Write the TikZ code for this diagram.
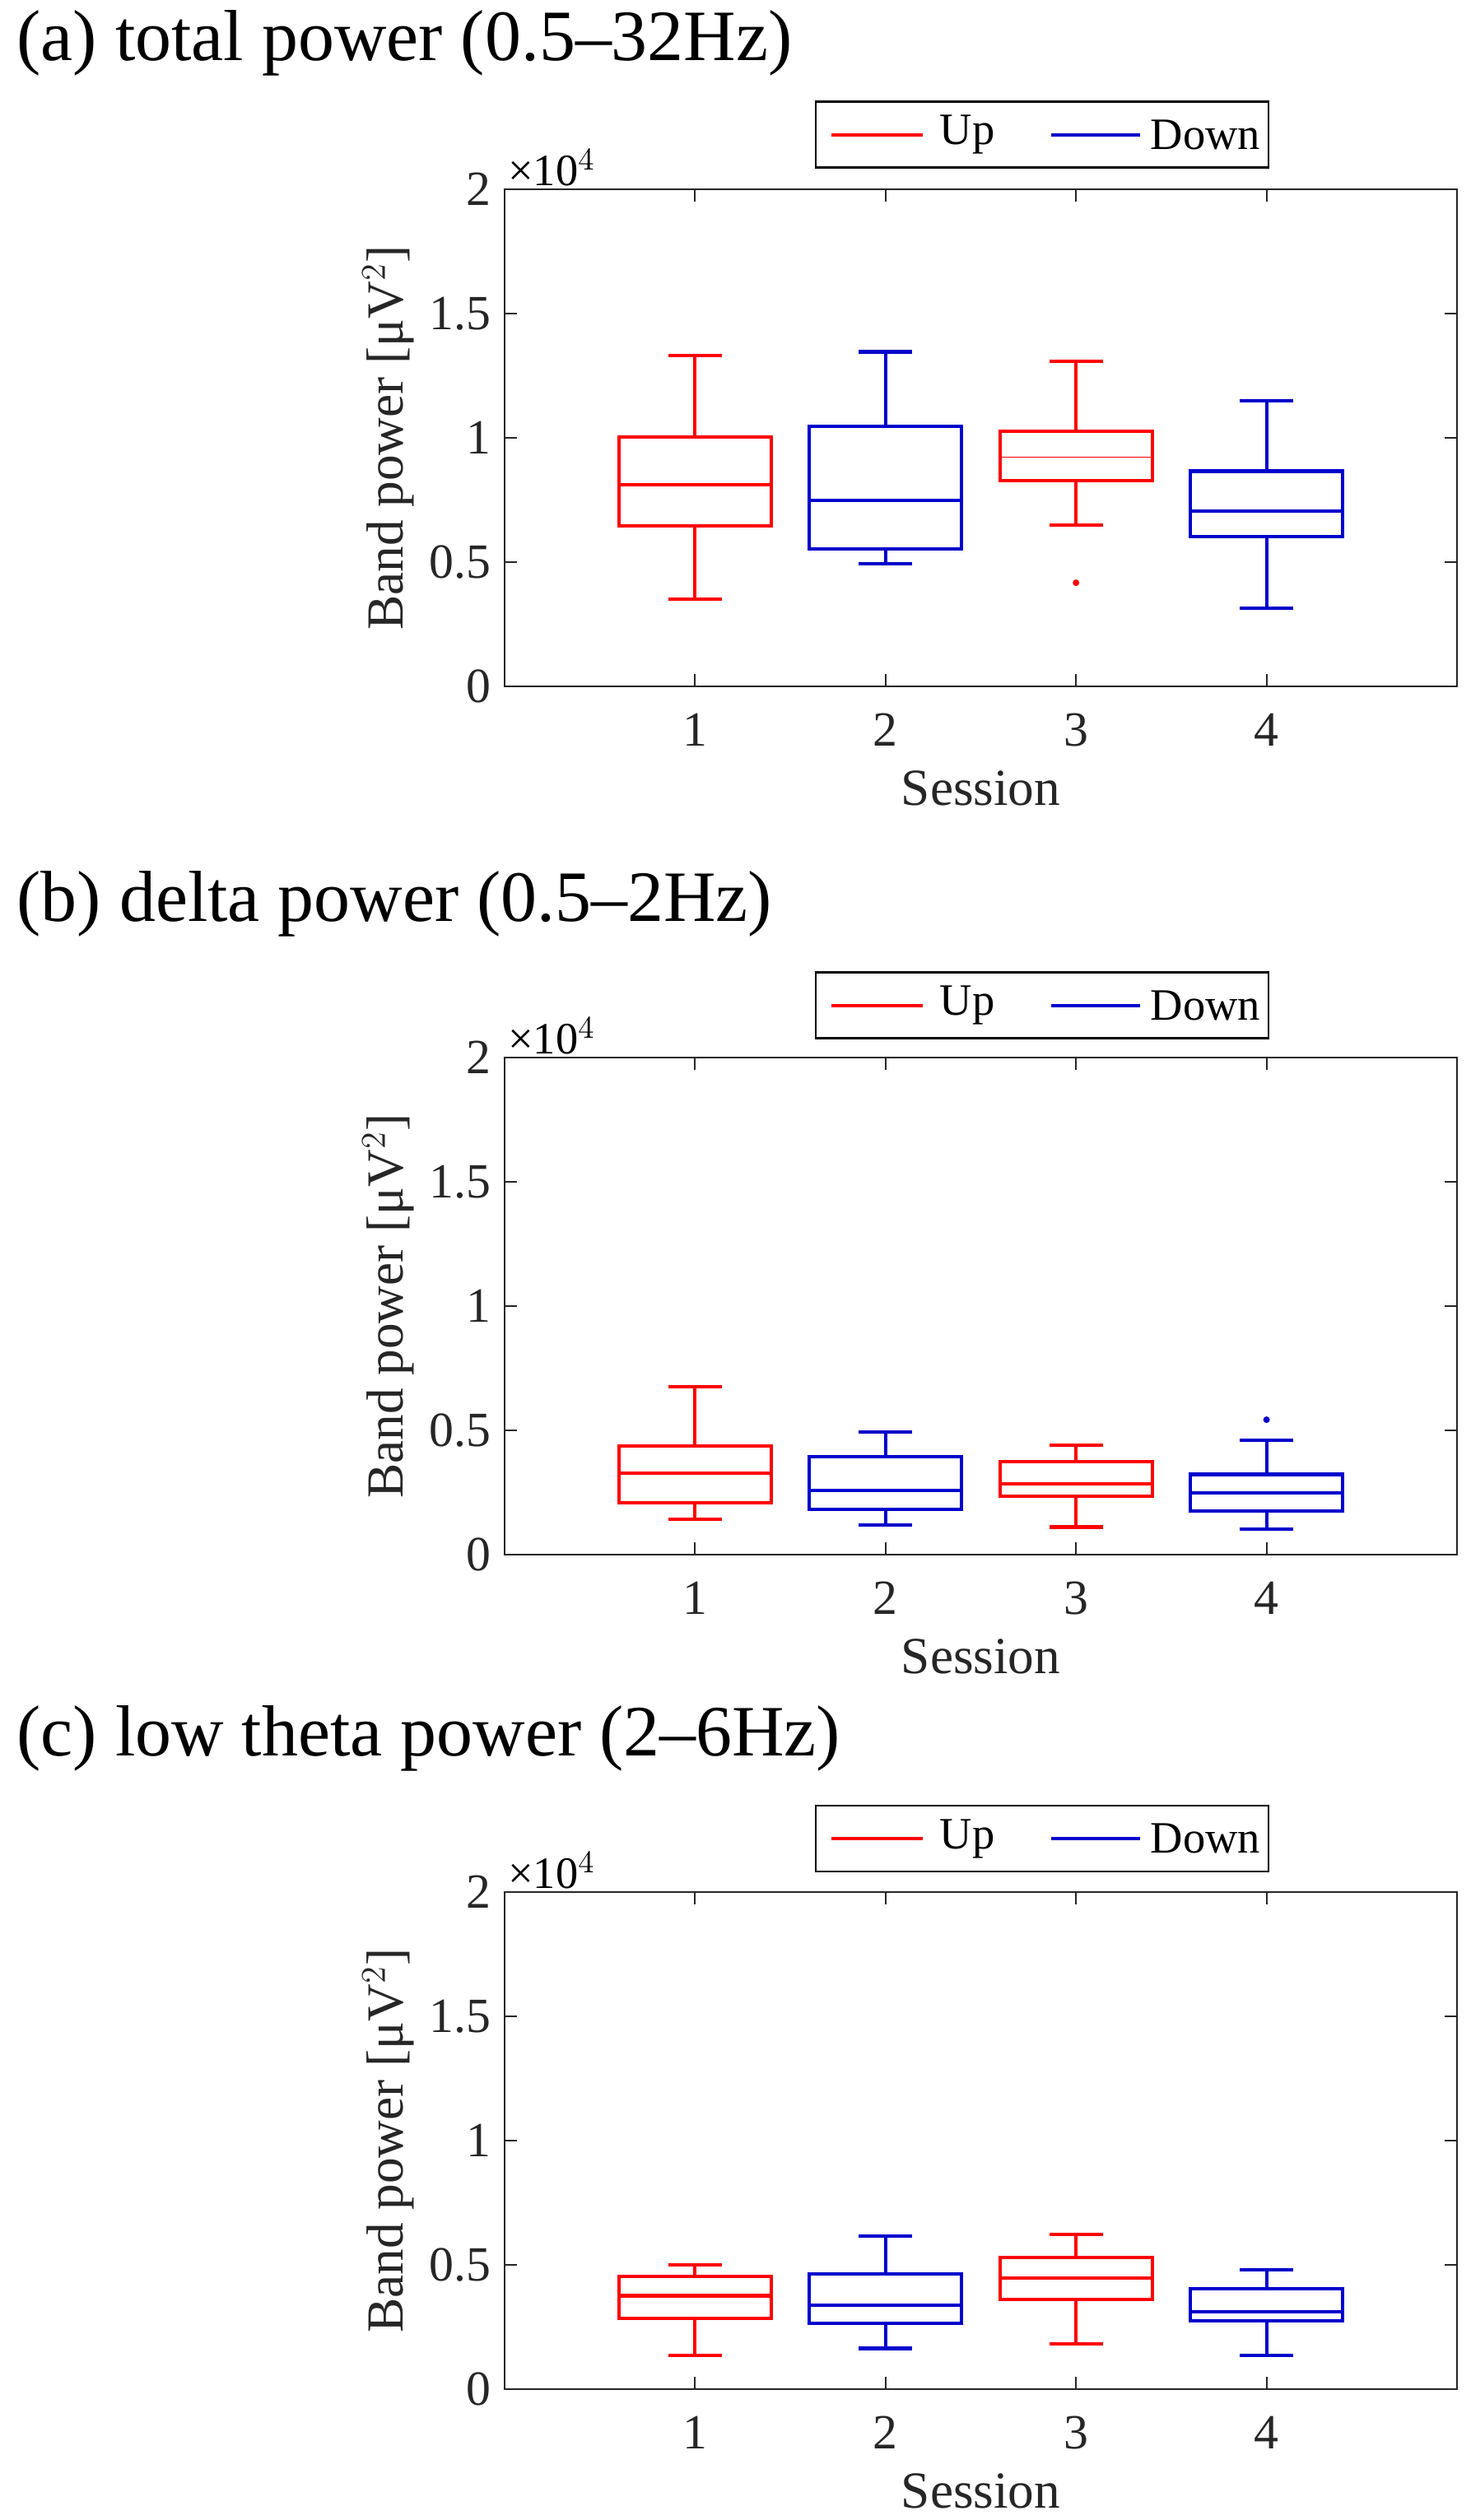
\documentclass[tikz,border=0pt]{standalone}
\usepackage{fontspec}
\setmainfont{Liberation Serif}
\definecolor{mred}{rgb}{1,0,0}
\definecolor{mblue}{rgb}{0,0,0.8}
\definecolor{axc}{rgb}{0.15,0.15,0.15}
\tikzset{
  ax/.style={draw=axc,line width=0.6pt},
  bx/.style={line width=1.15pt},
  tick/.style={font=\fontsize{17}{20}\selectfont,text=axc},
  legt/.style={font=\fontsize{15.5}{19}\selectfont,text=black},
  ttl/.style={font=\fontsize{25}{30}\selectfont,anchor=west,inner sep=0pt},
  lab/.style={font=\fontsize{18}{22}\selectfont,text=axc},
}
% \bpl{pos}{lo}{q1}{med}{q3}{hi}{color}{medwidth}
\newcommand{\bpl}[8]{%
  \draw[bx,#7] (#1,#2) -- (#1,#3) (#1,#5) -- (#1,#6)
    (#1-0.14,#2) -- (#1+0.14,#2) (#1-0.14,#6) -- (#1+0.14,#6);
  \draw[bx,#7] (#1-0.4,#3) rectangle (#1+0.4,#5);
  \draw[#7,line width=#8] (#1-0.4,#4) -- (#1+0.4,#4);
}
\newcommand{\panel}[2]{% #1 name prefix, #2 legend y offset
  \draw[ax] (0,0) rectangle (5,2);
  \foreach \i in {1,2,3,4}{
    \draw[ax] (\i,0) -- ++(0,0.05) (\i,2) -- ++(0,-0.05);
    \node[tick] (#1xt\i) at (\i,-0.175) {\i};
  }
  \foreach \v/\t [count=\k] in {0/0,0.5/0.5,1/1,1.5/1.5,2/2}{
    \draw[ax] (0,\v) -- ++(0.065,0) (5,\v) -- ++(-0.065,0);
    \node[tick,anchor=east] (#1yt\k) at (-0.02,\v) {\t};
  }
  \node[legt,anchor=south west,inner sep=1pt] (#1exp) at (0,2.0) {×10$^4$};
  \node[lab] (#1xl) at (2.5,-0.41) {Session};
  \node[lab,rotate=90] (#1yl) at (-0.61,1) {Band power [μV$^2$]};
  \node[draw=black,line width=0.7pt,minimum width=5.5cm,minimum height=0.8cm,inner sep=0pt] (#1leg) at (2.823,#2) {};
  \coordinate (#1r1) at ([xshift=0.2cm]#1leg.west);
  \coordinate (#1r2) at ([xshift=1.31cm]#1leg.west);
  \coordinate (#1b1) at ([xshift=2.87cm]#1leg.west);
  \coordinate (#1b2) at ([xshift=3.95cm]#1leg.west);
  \draw[mred,bx] (#1r1) -- (#1r2);
  \draw[mblue,bx] (#1b1) -- (#1b2);
  \node[legt,anchor=west,inner sep=0pt] (#1up) at ([xshift=0.2cm]#1r2) {Up};
  \node[legt,anchor=west,inner sep=0pt] (#1dn) at ([xshift=0.12cm]#1b2) {Down};
}
\begin{document}
\begin{tikzpicture}
\useasboundingbox (0,0) rectangle (17.86,-30.62);
\node[ttl] (ta) at (0.2,-0.52) {(a) total power (0.5–32Hz)};
\node[ttl] (tb) at (0.2,-10.98) {(b) delta power (0.5–2Hz)};
\node[ttl] (tc) at (0.2,-21.12) {(c) low theta power (2–6Hz)};
\begin{scope}[shift={(6.13,-8.34)},x=2.314cm,y=3.02cm]
  \panel{a}{2.22}
  \bpl{1}{0.351}{0.646}{0.810}{1.003}{1.331}{mred}{1.15pt}
  \bpl{2}{0.492}{0.553}{0.748}{1.045}{1.346}{mblue}{1.15pt}
  \bpl{3}{0.648}{0.829}{0.922}{1.026}{1.308}{mred}{0.4pt}
  \bpl{4}{0.314}{0.602}{0.704}{0.866}{1.148}{mblue}{1.15pt}
  \fill[mred] (3,0.417) circle (0.04cm);
\end{scope}
\begin{scope}[shift={(6.13,-18.89)},x=2.314cm,y=3.02cm]
  \panel{b}{2.21}
  \bpl{1}{0.141}{0.210}{0.328}{0.437}{0.677}{mred}{1.15pt}
  \bpl{2}{0.118}{0.182}{0.258}{0.395}{0.494}{mblue}{1.15pt}
  \bpl{3}{0.111}{0.234}{0.284}{0.375}{0.439}{mred}{1.15pt}
  \bpl{4}{0.102}{0.177}{0.248}{0.323}{0.459}{mblue}{1.15pt}
  \fill[mblue] (4,0.543) circle (0.04cm);
\end{scope}
\begin{scope}[shift={(6.13,-29.03)},x=2.314cm,y=3.02cm]
  \panel{c}{2.215}
  \bpl{1}{0.137}{0.286}{0.376}{0.453}{0.499}{mred}{1.15pt}
  \bpl{2}{0.164}{0.265}{0.337}{0.465}{0.617}{mblue}{1.15pt}
  \bpl{3}{0.182}{0.361}{0.446}{0.529}{0.623}{mred}{1.15pt}
  \bpl{4}{0.137}{0.275}{0.310}{0.405}{0.480}{mblue}{1.15pt}
\end{scope}
\end{tikzpicture}
\end{document}
